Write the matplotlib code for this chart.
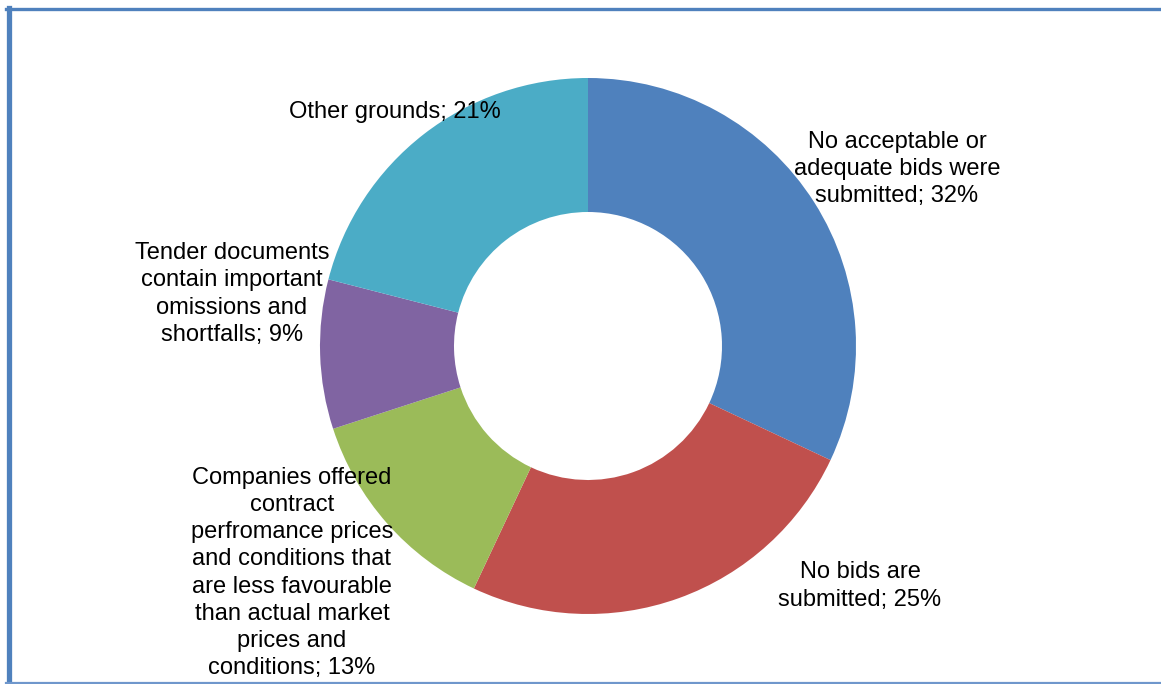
import matplotlib
matplotlib.use("Agg")
import matplotlib.pyplot as plt
from matplotlib.lines import Line2D

labels = [
    "No acceptable or\nadequate bids were\nsubmitted; 32%",
    "No bids are\nsubmitted; 25%",
    "Companies offered\ncontract\nperfromance prices\nand conditions that\nare less favourable\nthan actual market\nprices and\nconditions; 13%",
    "Tender documents\ncontain important\nomissions and\nshortfalls; 9%",
    "Other grounds; 21%",
]
values = [32, 25, 13, 9, 21]
colors = ["#4F81BD", "#C0504D", "#9BBB59", "#8064A2", "#4BACC6"]

W, H = 1161, 684
fig = plt.figure(figsize=(W / 100, H / 100), dpi=100)
ax = fig.add_axes([0, 0, 1, 1])

cx, cy, R = 588, H - 346, 268
ax.pie(values, colors=colors, startangle=90, counterclock=False,
       radius=R, center=(cx, cy), frame=True,
       wedgeprops=dict(width=R * 0.5, linewidth=0))
ax.set_xlim(0, W)
ax.set_ylim(0, H)
ax.axis("off")

label_pos = [(897, 169), (860, 586), (292, 573), (232, 294), (395, 112)]
for lab, (x, y) in zip(labels, label_pos):
    ax.text(x, H - y, lab, ha="center", va="center", fontsize=17,
            family="Liberation Sans", color="black", linespacing=1.31)

# border
fig.add_artist(Line2D([8.5 / W, 8.5 / W], [0, 1 - 8 / H], transform=fig.transFigure,
                      color="#4F81BD", linewidth=3.8))
fig.add_artist(Line2D([6 / W, 1], [1 - 8.5 / H, 1 - 8.5 / H], transform=fig.transFigure,
                      color="#4F81BD", linewidth=2.4))
fig.add_artist(Line2D([6 / W, 1], [1.5 / H, 1.5 / H], transform=fig.transFigure,
                      color="#6F97CC", linewidth=1.6))

fig.savefig("out.png", dpi=100)
